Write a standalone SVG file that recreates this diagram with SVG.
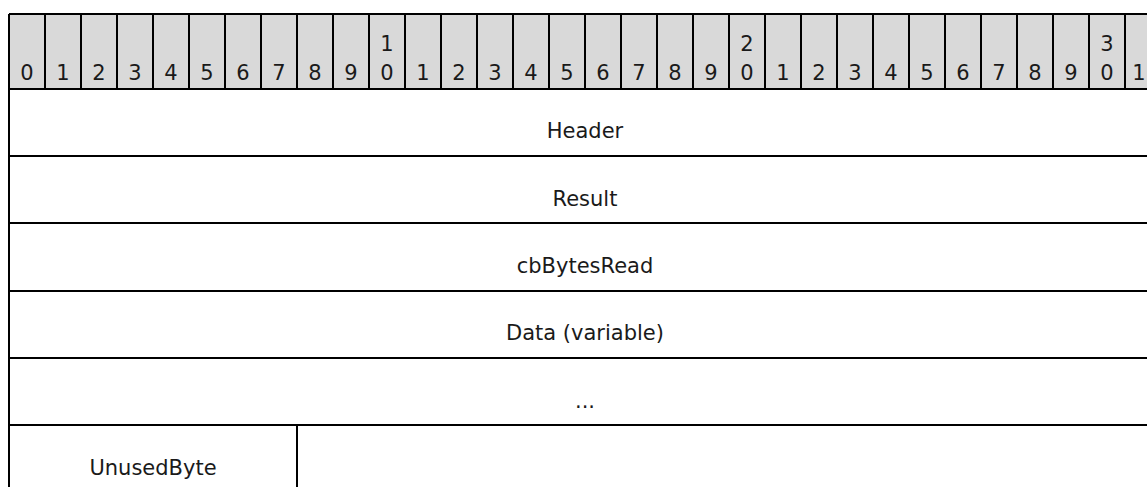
<svg xmlns="http://www.w3.org/2000/svg" width="1147" height="487" viewBox="0 0 1147 487">
<style>
.t{font-family:"DejaVu Sans",Verdana,sans-serif;font-size:21px;fill:#1a1a1a;text-anchor:middle}
.b{stroke:#000;stroke-width:2;fill:none}
.h{fill:#d9d9d9}
</style>
<rect width="1147" height="487" fill="#fff"/>
<g id="bit-header">
<rect class="h" x="9" y="14" width="1160" height="75"/>
<path class="b" d="M9,14H1169M9,14V89M45,14V89M81,14V89M117,14V89M153,14V89M189,14V89M225,14V89M261,14V89M297,14V89M333,14V89M369,14V89M405,14V89M441,14V89M477,14V89M513,14V89M549,14V89M585,14V89M621,14V89M657,14V89M693,14V89M729,14V89M765,14V89M801,14V89M837,14V89M873,14V89M909,14V89M945,14V89M981,14V89M1017,14V89M1053,14V89M1089,14V89M1125,14V89"/>
<text class="t" x="27" y="80">0</text>
<text class="t" x="63" y="80">1</text>
<text class="t" x="99" y="80">2</text>
<text class="t" x="135" y="80">3</text>
<text class="t" x="171" y="80">4</text>
<text class="t" x="207" y="80">5</text>
<text class="t" x="243" y="80">6</text>
<text class="t" x="279" y="80">7</text>
<text class="t" x="315" y="80">8</text>
<text class="t" x="351" y="80">9</text>
<text class="t" x="387" y="51">1</text><text class="t" x="387" y="80">0</text>
<text class="t" x="423" y="80">1</text>
<text class="t" x="459" y="80">2</text>
<text class="t" x="495" y="80">3</text>
<text class="t" x="531" y="80">4</text>
<text class="t" x="567" y="80">5</text>
<text class="t" x="603" y="80">6</text>
<text class="t" x="639" y="80">7</text>
<text class="t" x="675" y="80">8</text>
<text class="t" x="711" y="80">9</text>
<text class="t" x="747" y="51">2</text><text class="t" x="747" y="80">0</text>
<text class="t" x="783" y="80">1</text>
<text class="t" x="819" y="80">2</text>
<text class="t" x="855" y="80">3</text>
<text class="t" x="891" y="80">4</text>
<text class="t" x="927" y="80">5</text>
<text class="t" x="963" y="80">6</text>
<text class="t" x="999" y="80">7</text>
<text class="t" x="1035" y="80">8</text>
<text class="t" x="1071" y="80">9</text>
<text class="t" x="1107" y="51">3</text><text class="t" x="1107" y="80">0</text>
<text class="t" x="1139" y="80">1</text>
</g>
<g id="header">
<path class="b" d="M9,89H1169M9,89V156"/>
<text class="t" x="585" y="138">Header</text>
</g>
<g id="result">
<path class="b" d="M9,156H1169M9,156V223"/>
<text class="t" x="585" y="206">Result</text>
</g>
<g id="cbBytesRead">
<path class="b" d="M9,223H1169M9,223V291"/>
<text class="t" x="585" y="273">cbBytesRead</text>
</g>
<g id="data">
<path class="b" d="M9,291H1169M9,291V358"/>
<text class="t" x="585" y="340">Data (variable)</text>
</g>
<g id="ellipsis">
<path class="b" d="M9,358H1169M9,358V425"/>
<text class="t" x="585" y="408">...</text>
</g>
<g id="unusedByte">
<path class="b" d="M9,425H1169M9,425V495M297,425V495"/>
<text class="t" x="153" y="475">UnusedByte</text>
</g>
</svg>
